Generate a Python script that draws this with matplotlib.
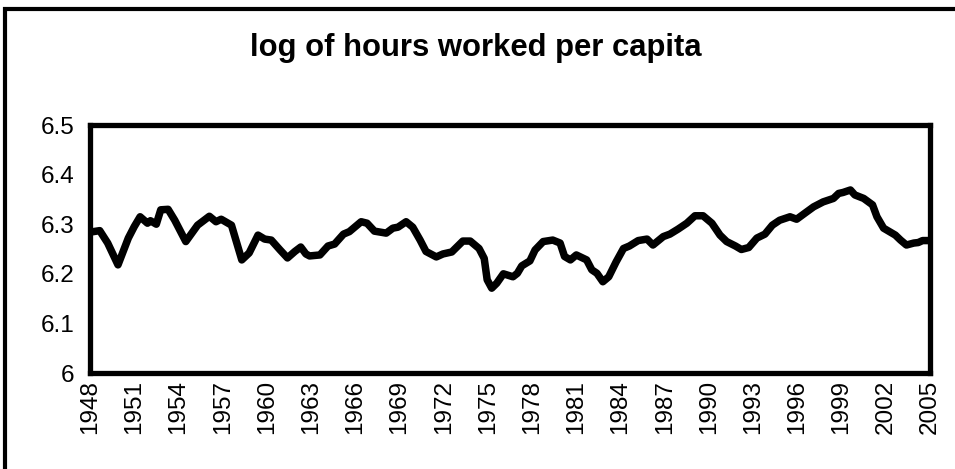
import matplotlib
matplotlib.use("Agg")
import matplotlib.pyplot as plt
from matplotlib.patches import Rectangle

title = "log of hours worked per capita"

years = [1948.0, 1948.66, 1949.2, 1949.9, 1950.6, 1951.0, 1951.4, 1951.9, 1952.1, 1952.5,
         1952.8, 1953.3, 1953.75, 1954.5, 1955.3, 1956.1, 1956.55, 1956.9, 1957.6, 1958.3,
         1958.8, 1959.4, 1959.85, 1960.3, 1960.9, 1961.4, 1961.9, 1962.3, 1962.65, 1962.9,
         1963.6, 1964.15, 1964.6, 1965.2, 1965.6, 1966.4, 1966.8, 1967.3, 1968.1, 1968.55,
         1968.9, 1969.45, 1969.9, 1970.4, 1970.8, 1971.5, 1971.95, 1972.55, 1973.3, 1973.8,
         1974.4, 1974.75, 1974.95, 1975.26, 1975.6, 1976.05, 1976.7, 1977.0, 1977.3, 1977.85,
         1978.2, 1978.75, 1979.4, 1979.9, 1980.2, 1980.6, 1981.0, 1981.7, 1982.05, 1982.4,
         1982.8, 1983.2, 1983.7, 1984.2, 1984.6, 1985.2, 1985.8, 1986.2, 1986.9, 1987.35,
         1987.9, 1988.5, 1989.05, 1989.6, 1990.2, 1990.75, 1991.2, 1991.8, 1992.2, 1992.7,
         1993.25, 1993.8, 1994.3, 1994.8, 1995.5, 1995.95, 1996.5, 1997.1, 1997.75, 1998.45,
         1998.8, 1999.1, 1999.6, 1999.9, 2000.5, 2001.1, 2001.4, 2001.85, 2002.65, 2003.0,
         2003.4, 2003.9, 2004.2, 2004.5, 2005.0]
hours = [6.284, 6.287, 6.262, 6.218, 6.272, 6.295, 6.315, 6.302, 6.307, 6.300,
         6.329, 6.330, 6.308, 6.265, 6.298, 6.316, 6.305, 6.310, 6.298, 6.228,
         6.242, 6.278, 6.270, 6.268, 6.248, 6.232, 6.245, 6.254, 6.240, 6.236,
         6.238, 6.256, 6.260, 6.280, 6.285, 6.305, 6.302, 6.286, 6.282, 6.292,
         6.294, 6.305, 6.294, 6.268, 6.245, 6.234, 6.240, 6.244, 6.266, 6.266,
         6.251, 6.231, 6.188, 6.171, 6.181, 6.200, 6.194, 6.201, 6.216, 6.226,
         6.248, 6.265, 6.268, 6.262, 6.235, 6.228, 6.238, 6.228, 6.208, 6.201,
         6.184, 6.194, 6.224, 6.251, 6.256, 6.267, 6.270, 6.258, 6.275, 6.280,
         6.290, 6.302, 6.317, 6.317, 6.302, 6.278, 6.265, 6.256, 6.249, 6.253,
         6.272, 6.280, 6.298, 6.308, 6.315, 6.310, 6.322, 6.335, 6.345, 6.352,
         6.362, 6.364, 6.369, 6.359, 6.352, 6.339, 6.315, 6.292, 6.278, 6.268,
         6.258, 6.262, 6.263, 6.267, 6.267]

yticks = [6, 6.1, 6.2, 6.3, 6.4, 6.5]
ytick_labels = ["6", "6.1", "6.2", "6.3", "6.4", "6.5"]
xticks = list(range(1948, 2006, 3))
xtick_labels = [str(y) for y in xticks]

plt.rcParams['font.family'] = ['Liberation Sans', 'DejaVu Sans']

fig = plt.figure(figsize=(9.55, 4.69), dpi=100)
ax = fig.add_axes([90/955, 1 - 373/469, 840/955, 248/469])

ax.plot(years, hours, color='black', lw=5.4, solid_joinstyle='round', solid_capstyle='butt')

ax.set_xlim(1948, 2005)
ax.set_ylim(6, 6.5)
ax.set_yticks(yticks)
ax.set_yticklabels(ytick_labels, fontsize=17.5)
ax.set_xticks(xticks)
ax.set_xticklabels(xtick_labels, fontsize=17.5, rotation=90)
ax.tick_params(axis='both', length=0)
ax.tick_params(axis='y', pad=11)
ax.tick_params(axis='x', pad=5)
for s in ax.spines.values():
    s.set_linewidth(3.8)
    s.set_color('black')

fig.text(476/955, 1 - 48/469, title, ha='center', va='center',
         fontsize=22.3, fontweight='bold')

# outer chart-area border (only top and left edges visible in frame)
fig.add_artist(Rectangle((4.5/955, -0.5), 2.0, 1.5 - 9/469, transform=fig.transFigure,
                         fill=False, edgecolor='black', lw=3, clip_on=False))

fig.savefig("out.png", dpi=100)
